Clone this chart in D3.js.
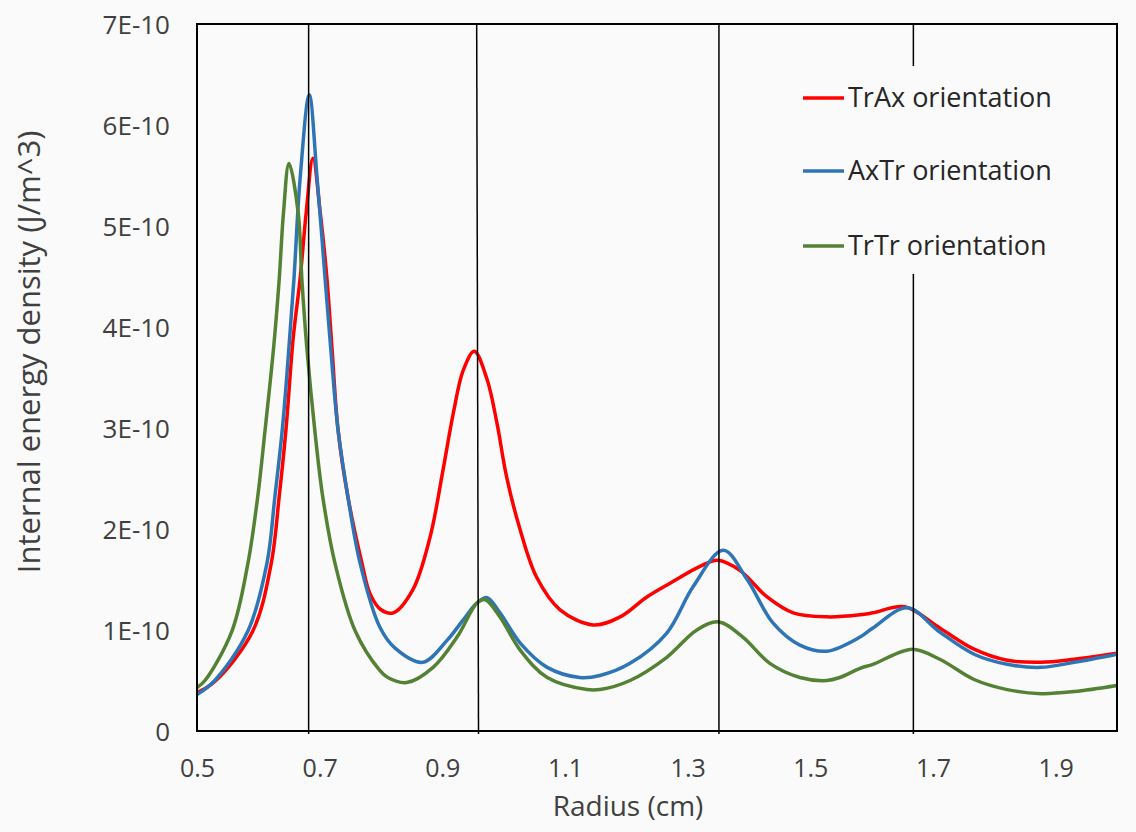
<!DOCTYPE html>
<html><head><meta charset="utf-8">
<script src="https://cdn.jsdelivr.net/npm/d3@7"></script>
<style>
body{margin:0;background:#fafafa}
text{font-family:"Open Sans",sans-serif;fill:#404040}
</style>
</head><body>
<svg id="chart" width="1136" height="832"></svg>
<script>
// ---- data (energy density in units of 1E-10 J/m^3) ----
const xTickValues = [0.5, 0.7, 0.9, 1.1, 1.3, 1.5, 1.7, 1.9];
const yTickValues = [0, 1, 2, 3, 4, 5, 6, 7];
const yTickLabels = ["0", "1E-10", "2E-10", "3E-10", "4E-10", "5E-10", "6E-10", "7E-10"];
const seriesNames = ["TrAx orientation", "AxTr orientation", "TrTr orientation"];
const seriesColors = ["#ff0000", "#2e75b6", "#548235"];

const trAxRadius = [0.500, 0.529, 0.591, 0.621, 0.634, 0.645, 0.657, 0.668, 0.678, 0.689, 0.701, 0.712, 0.720, 0.730, 0.746, 0.769, 0.782, 0.800, 0.820, 0.852, 0.880, 0.901, 0.918, 0.934, 0.952, 0.973, 0.989, 1.005, 1.027, 1.054, 1.092, 1.146, 1.190, 1.234, 1.276, 1.320, 1.349, 1.385, 1.429, 1.472, 1.527, 1.581, 1.602, 1.654, 1.711, 1.767, 1.821, 1.876, 1.930, 2.000];
const trAxEnergy = [0.38, 0.49, 0.99, 1.66, 2.32, 2.98, 3.90, 4.47, 5.13, 5.67, 5.13, 4.47, 3.80, 2.98, 2.32, 1.66, 1.36, 1.20, 1.17, 1.40, 1.92, 2.58, 3.15, 3.57, 3.76, 3.48, 3.05, 2.51, 1.99, 1.52, 1.20, 1.05, 1.13, 1.33, 1.48, 1.63, 1.69, 1.59, 1.33, 1.17, 1.13, 1.15, 1.17, 1.23, 1.02, 0.81, 0.70, 0.68, 0.71, 0.77];

const axTrRadius = [0.500, 0.529, 0.583, 0.614, 0.627, 0.639, 0.648, 0.658, 0.668, 0.683, 0.696, 0.709, 0.720, 0.730, 0.746, 0.766, 0.798, 0.823, 0.868, 0.908, 0.934, 0.957, 0.973, 0.994, 1.027, 1.071, 1.124, 1.157, 1.206, 1.266, 1.309, 1.358, 1.397, 1.439, 1.483, 1.527, 1.581, 1.602, 1.658, 1.711, 1.767, 1.821, 1.876, 1.930, 2.000];
const axTrEnergy = [0.36, 0.50, 0.99, 1.66, 2.32, 2.98, 3.64, 4.47, 5.46, 6.30, 5.46, 4.47, 3.64, 2.98, 2.32, 1.66, 1.03, 0.82, 0.68, 0.90, 1.10, 1.27, 1.32, 1.17, 0.87, 0.63, 0.53, 0.55, 0.67, 0.97, 1.43, 1.79, 1.50, 1.07, 0.85, 0.79, 0.93, 1.02, 1.22, 0.98, 0.76, 0.66, 0.63, 0.68, 0.76];

const trTrRadius = [0.500, 0.513, 0.557, 0.583, 0.599, 0.611, 0.625, 0.634, 0.641, 0.650, 0.665, 0.671, 0.679, 0.692, 0.705, 0.725, 0.758, 0.798, 0.811, 0.842, 0.885, 0.924, 0.957, 0.970, 0.994, 1.027, 1.071, 1.136, 1.157, 1.206, 1.266, 1.315, 1.351, 1.390, 1.434, 1.483, 1.527, 1.548, 1.581, 1.602, 1.666, 1.711, 1.767, 1.821, 1.876, 1.930, 2.000];
const trTrEnergy = [0.43, 0.50, 0.99, 1.66, 2.32, 2.98, 3.80, 4.47, 5.13, 5.62, 5.13, 4.47, 3.80, 2.98, 2.32, 1.66, 0.99, 0.60, 0.53, 0.48, 0.63, 0.93, 1.27, 1.30, 1.13, 0.80, 0.53, 0.41, 0.41, 0.50, 0.73, 1.00, 1.08, 0.93, 0.67, 0.53, 0.50, 0.53, 0.62, 0.66, 0.81, 0.71, 0.51, 0.41, 0.37, 0.39, 0.45];

const refLineTopRadius = [0.682, 0.956, 1.351, 1.668];
const refLineBottomRadius = [0.682, 0.959, 1.351, 1.668];

// ---- layout ----
const svg = d3.select("#chart");
const W = 1136, H = 832;
const m = {left: 197, top: 24, right: 1117, bottom: 731};
svg.append("rect").attr("width", W).attr("height", H).attr("fill", "#fafafa");

const x = d3.scaleLinear().domain([0.5, 2.0]).range([m.left, m.right]);
const y = d3.scaleLinear().domain([0, 7]).range([m.bottom, m.top]);

// curves
const seriesData = [
  trAxRadius.map((r, i) => [r, trAxEnergy[i]]),
  axTrRadius.map((r, i) => [r, axTrEnergy[i]]),
  trTrRadius.map((r, i) => [r, trTrEnergy[i]])
];
const line = d3.line().x(d => x(d[0])).y(d => y(d[1])).curve(d3.curveCatmullRom.alpha(0.5));
const plot = svg.append("g");
plot.selectAll("path.series").data(seriesData).enter().append("path")
  .attr("class", "series")
  .attr("d", line)
  .attr("fill", "none")
  .attr("stroke", (d, i) => seriesColors[i])
  .attr("stroke-width", 3.5)
  .attr("stroke-linejoin", "round");

// reference vertical lines
plot.selectAll("line.ref").data(refLineTopRadius).enter().append("line")
  .attr("class", "ref")
  .attr("x1", d => x(d)).attr("y1", y(7))
  .attr("x2", (d, i) => x(refLineBottomRadius[i])).attr("y2", y(0) + 3)
  .attr("stroke", "#000").attr("stroke-width", 1.5);

// legend (with background)
const legend = svg.append("g");
legend.append("rect").attr("x", 792).attr("y", 66).attr("width", 272).attr("height", 208).attr("fill", "#fafafa");
const legY = [98, 171, 246];
seriesNames.forEach((name, i) => {
  legend.append("line").attr("x1", 803).attr("x2", 844).attr("y1", legY[i]).attr("y2", legY[i])
    .attr("stroke", seriesColors[i]).attr("stroke-width", 3.5);
  legend.append("text").attr("x", 848).attr("y", legY[i]).attr("dy", "0.35em")
    .style("font-size", "27px").style("fill", "#262626").text(name);
});

// axes
const xAxis = d3.axisBottom(x).tickValues(xTickValues).tickSize(0).tickFormat(d3.format(".1f"));
const gx = svg.append("g").attr("transform", `translate(0,${m.bottom})`).call(xAxis);
gx.select(".domain").remove();
gx.selectAll("text").attr("dy", 0).attr("y", 46).style("font-size", "25px").style("font-family", "Open Sans").attr("fill", "#404040");

const yAxis = d3.axisLeft(y).tickValues(yTickValues).tickSize(0).tickFormat((d, i) => yTickLabels[i]);
const gy = svg.append("g").attr("transform", `translate(${m.left},0)`).call(yAxis);
gy.select(".domain").remove();
gy.selectAll("text").attr("x", -27).attr("dy", "0.35em").style("font-size", "26px").style("font-family", "Open Sans").attr("fill", "#404040");

// frame
svg.append("rect").attr("x", m.left).attr("y", m.top).attr("width", m.right - m.left).attr("height", m.bottom - m.top)
  .attr("fill", "none").attr("stroke", "#000").attr("stroke-width", 2);

// titles
svg.append("text").attr("x", 628).attr("y", 806).attr("dy", "0.35em").attr("text-anchor", "middle")
  .style("font-size", "28px").text("Radius (cm)");
svg.append("text").attr("transform", `translate(29,352) rotate(-90)`)
  .attr("dy", "0.35em").attr("text-anchor", "middle").style("font-size", "31px")
  .text("Internal energy density (J/m^3)");
</script>
</body></html>
